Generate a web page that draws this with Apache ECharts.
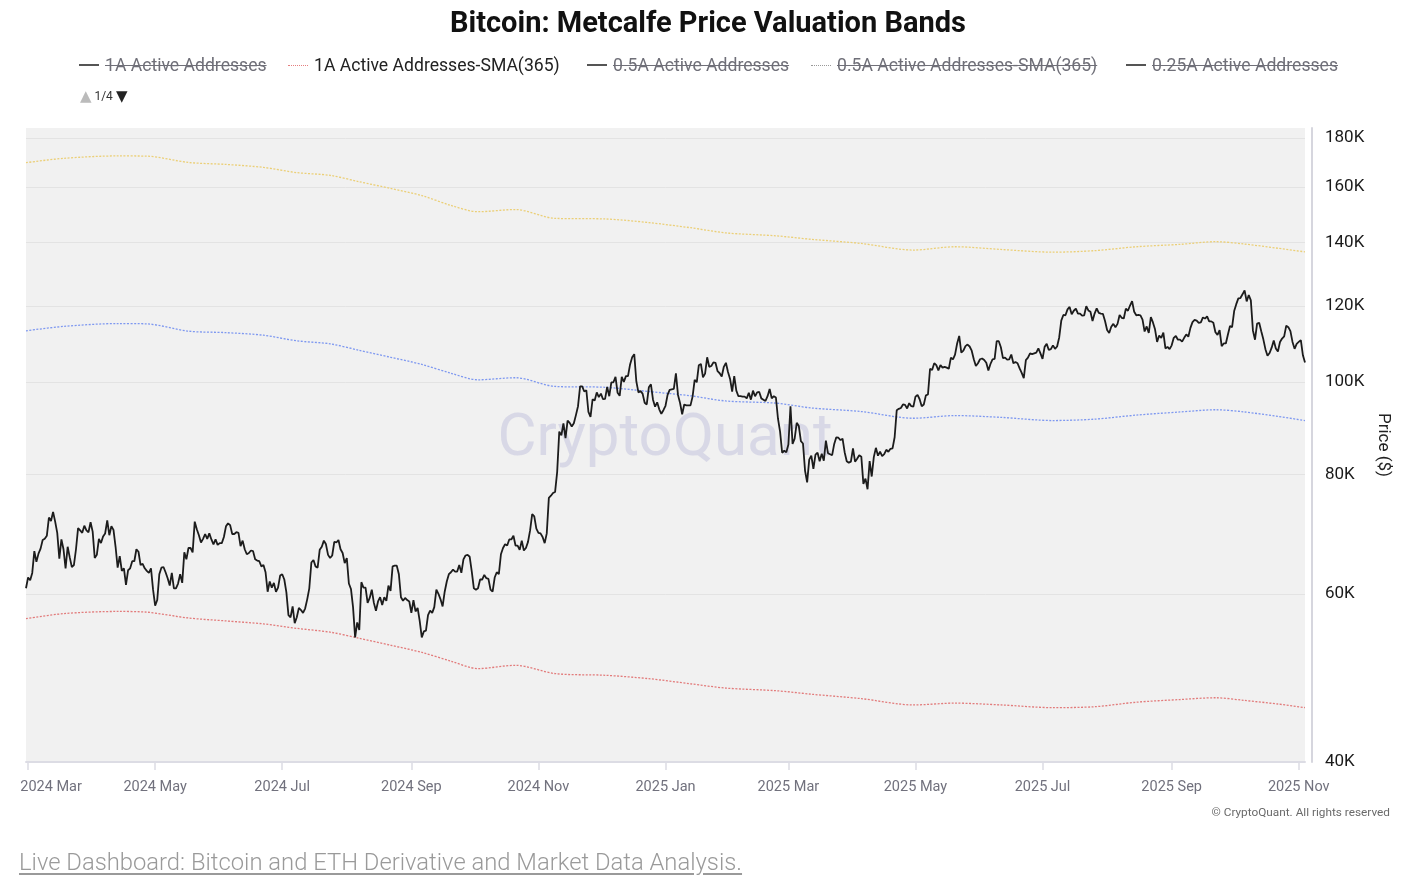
<!DOCTYPE html>
<html>
<head>
<meta charset="utf-8">
<title>Bitcoin: Metcalfe Price Valuation Bands</title>
<script src="https://cdn.jsdelivr.net/npm/echarts@6.0.0/dist/echarts.min.js"></script>
<style>
  html, body { margin: 0; padding: 0; background: #fff; }
  body { width: 1404px; height: 888px; position: relative; overflow: hidden; font-family: Roboto, "Liberation Sans", sans-serif; }
  #chart { position: absolute; left: 0; top: 0; width: 1404px; height: 888px; }
  .lg { position: absolute; top: 54px; height: 22px; display: flex; align-items: center; font-size: 17.6px; color: #222; white-space: nowrap; }
  .lg .ic { width: 20px; margin-right: 6px; height: 0; }
  .lg .solid { border-top: 2px solid #555; }
  .lg .dot-red { border-top: 1.5px dotted #e57f7f; }
  .lg .dot-gray { border-top: 1.5px dotted #999; }
  .lg.off span.t { color: #6f6f78; text-decoration: line-through; }
  .pager { position: absolute; left: 78px; top: 85px; font-size: 12px; color: #333; display: flex; align-items: center; height: 22px; }
  .pager .up { color: #bbb; font-size: 20px; margin-right: 1px; font-family: "DejaVu Sans", sans-serif; transform: scale(0.75); }
  .pager .dn { color: #222; font-size: 20px; margin-left: 1px; font-family: "DejaVu Sans", sans-serif; transform: scale(0.75); }
  .foot { position: absolute; left: 19px; top: 848px; font-size: 23.8px; font-weight: 300; color: #9a9a9a; text-decoration: underline; text-underline-offset: 3px; }
</style>
</head>
<body>
<div id="chart"></div>
<div class="lg off" style="left:79px"><span class="ic solid"></span><span class="t">1A Active Addresses</span></div>
<div class="lg" style="left:288px"><span class="ic dot-red"></span><span class="t">1A Active Addresses-SMA(365)</span></div>
<div class="lg off" style="left:587px"><span class="ic solid"></span><span class="t">0.5A Active Addresses</span></div>
<div class="lg off" style="left:811px"><span class="ic dot-gray"></span><span class="t">0.5A Active Addresses-SMA(365)</span></div>
<div class="lg off" style="left:1126px"><span class="ic solid"></span><span class="t">0.25A Active Addresses</span></div>
<div class="pager"><span class="up">&#9650;</span><span>1/4</span><span class="dn">&#9660;</span></div>
<div class="foot">Live Dashboard: Bitcoin and ETH Derivative and Market Data Analysis.</div>
<script>
// daily BTC price in $K, first day 2024-02-29
const priceStart = '2024-02-29';
const priceK = [
  60.8,
  // 2024 Mar
  62.4, 62.0, 63.1, 66.5, 64.8, 66.1, 66.9, 68.3, 68.5, 69.0, 72.1, 71.5, 73.1, 71.4, 69.5, 65.3, 68.4, 66.8, 63.8, 67.2, 65.5, 64.0, 64.3, 66.8, 70.3, 69.9, 69.5, 70.7, 69.9, 69.6, 71.3,
  // Apr
  69.7, 65.4, 65.9, 68.5, 67.8, 68.9, 69.4, 71.6, 69.1, 70.6, 70.0, 67.2, 63.9, 65.7, 63.4, 63.8, 61.3, 63.5, 63.8, 64.9, 64.9, 66.8, 66.4, 64.3, 64.5, 63.8, 63.4, 63.1, 63.8, 60.6,
  // May
  58.3, 59.1, 62.9, 63.9, 64.0, 63.2, 62.3, 61.2, 63.1, 60.8, 60.8, 61.5, 62.9, 61.6, 66.3, 65.2, 67.0, 67.0, 66.3, 71.4, 70.1, 69.1, 67.9, 68.5, 69.3, 68.5, 69.4, 68.4, 67.6, 68.4, 67.5,
  // Jun
  67.8, 67.8, 68.8, 70.6, 71.1, 70.8, 69.3, 69.3, 69.6, 69.5, 67.3, 68.2, 66.8, 66.0, 66.2, 66.6, 66.5, 65.2, 65.0, 64.9, 64.1, 64.3, 63.2, 60.3, 61.8, 60.9, 61.6, 60.3, 60.9, 62.7,
  // Jul
  62.9, 62.1, 60.2, 57.0, 56.7, 58.2, 55.9, 56.7, 58.0, 57.7, 57.3, 57.9, 59.2, 60.8, 64.7, 65.1, 64.1, 63.9, 66.7, 67.2, 68.2, 67.6, 65.9, 65.4, 65.8, 68.0, 67.9, 68.3, 66.8, 66.2, 64.6,
  // Aug
  65.4, 61.5, 60.7, 58.1, 54.0, 56.0, 55.0, 61.7, 60.9, 60.9, 58.7, 59.4, 60.6, 58.7, 57.6, 58.9, 59.5, 58.4, 59.5, 59.0, 61.2, 60.4, 64.1, 64.2, 64.2, 62.9, 59.5, 59.0, 59.4, 59.1, 58.9,
  // Sep
  57.3, 59.1, 57.5, 58.0, 56.2, 54.0, 54.8, 54.9, 57.0, 57.6, 57.3, 58.1, 60.6, 60.0, 59.2, 58.2, 60.3, 61.8, 62.9, 63.2, 63.6, 63.3, 63.3, 64.3, 63.1, 65.2, 65.8, 65.9, 65.6, 63.3,
  // Oct
  60.8, 60.6, 60.8, 62.1, 62.1, 62.8, 62.3, 62.2, 60.6, 60.3, 62.4, 63.2, 62.9, 66.0, 67.0, 67.6, 67.4, 68.4, 68.4, 69.0, 67.4, 67.4, 66.7, 68.2, 66.6, 67.0, 68.0, 69.9, 72.7, 72.3, 70.2,
  // Nov
  69.5, 69.4, 68.8, 67.8, 69.4, 75.6, 76.0, 76.5, 76.7, 80.5, 88.7, 87.9, 90.5, 87.3, 91.1, 90.6, 89.8, 90.5, 92.3, 94.3, 98.9, 98.9, 97.7, 98.0, 93.0, 91.9, 95.9, 95.6, 97.5, 96.4,
  // Dec
  97.2, 95.9, 96.0, 98.8, 96.6, 99.9, 99.9, 101.2, 97.4, 96.7, 101.2, 100.0, 101.4, 101.4, 104.3, 106.1, 106.9, 100.1, 97.5, 97.8, 97.2, 95.1, 94.7, 98.7, 99.4, 95.8, 94.2, 95.2, 93.6, 92.6, 93.4,
  // 2025 Jan
  94.4, 96.9, 98.1, 98.2, 98.3, 102.1, 96.9, 95.0, 92.5, 94.7, 94.5, 94.5, 94.5, 96.5, 100.5, 99.9, 104.1, 104.4, 101.1, 102.0, 106.1, 103.7, 103.9, 104.8, 104.7, 102.6, 102.1, 101.3, 103.7, 104.7, 102.4,
  // Feb
  100.7, 97.7, 101.4, 97.9, 96.6, 96.6, 96.5, 96.5, 96.1, 97.4, 95.8, 97.9, 96.6, 97.5, 97.6, 96.1, 95.8, 95.5, 96.6, 98.3, 96.1, 96.6, 96.3, 91.5, 88.7, 84.3, 84.7, 84.4,
  // Mar
  86.0, 94.3, 86.1, 87.2, 90.6, 89.9, 86.7, 86.2, 80.7, 78.5, 82.9, 83.7, 81.1, 83.9, 84.3, 82.6, 84.1, 82.7, 86.8, 84.2, 84.0, 83.8, 86.1, 87.5, 87.4, 86.9, 87.2, 84.4, 82.6, 82.3, 82.5,
  // Apr
  85.2, 82.5, 83.1, 83.8, 83.5, 78.2, 79.2, 77.2, 82.6, 79.6, 83.4, 85.3, 83.7, 84.5, 83.6, 84.0, 84.9, 84.5, 85.1, 85.2, 87.5, 93.4, 93.7, 93.9, 94.7, 94.6, 93.8, 95.0, 94.3, 94.2,
  // May
  96.5, 96.9, 95.9, 94.3, 94.7, 96.8, 97.0, 103.2, 102.9, 104.6, 104.1, 102.8, 104.1, 103.5, 103.7, 103.5, 103.2, 106.0, 105.6, 106.8, 109.7, 111.7, 107.3, 107.8, 109.0, 109.4, 108.9, 107.8, 105.6, 103.9, 104.6,
  // Jun
  105.6, 105.8, 105.4, 104.7, 102.8, 104.4, 105.6, 105.7, 110.3, 110.3, 108.7, 105.9, 106.0, 105.5, 105.6, 106.8, 104.6, 104.9, 104.6, 103.3, 102.2, 100.9, 105.4, 106.0, 107.1, 106.9, 107.1, 107.3, 108.4, 107.1,
  // Jul
  105.7, 108.8, 109.6, 108.0, 108.2, 109.2, 108.3, 108.9, 111.3, 115.9, 117.5, 117.4, 119.1, 119.8, 117.7, 118.7, 119.3, 117.9, 117.9, 117.3, 117.4, 120.0, 118.8, 118.4, 115.8, 117.9, 119.4, 118.1, 117.9, 117.8, 115.8,
  // Aug
  113.3, 112.5, 114.2, 115.0, 114.1, 115.0, 117.5, 116.7, 116.5, 119.3, 118.7, 120.2, 121.5, 118.4, 117.4, 117.5, 117.4, 116.2, 112.9, 114.3, 112.5, 116.9, 115.4, 113.5, 110.1, 111.8, 111.2, 112.6, 108.4, 108.8, 108.2,
  // Sep
  109.2, 111.2, 111.7, 110.7, 110.7, 110.2, 111.2, 112.1, 111.5, 113.9, 115.5, 116.1, 115.9, 115.3, 115.4, 116.8, 116.5, 117.1, 115.7, 115.7, 115.3, 112.7, 112.0, 113.3, 109.0, 109.7, 109.7, 112.1, 114.4, 114.1,
  // Oct
  118.6, 120.6, 122.3, 122.4, 123.5, 124.7, 121.4, 123.3, 121.7, 113.2, 110.7, 115.1, 115.3, 113.0, 110.8, 108.2, 106.5, 107.2, 108.6, 110.5, 108.4, 107.6, 110.1, 111.0, 111.6, 114.5, 114.1, 113.0, 110.1, 108.3, 109.6,
  // Nov
  110.1, 110.6, 106.6, 104.8
];

// 365-day SMA bands, $K
const bandDates = [
  '2024-02-29', '2024-03-18', '2024-04-13', '2024-04-27', '2024-05-17', '2024-06-04', '2024-06-22', '2024-07-08',
  '2024-07-24', '2024-08-07', '2024-08-22', '2024-09-06', '2024-09-20', '2024-10-03', '2024-10-21', '2024-11-09',
  '2024-12-03', '2024-12-24', '2025-01-13', '2025-01-30', '2025-02-23', '2025-03-12', '2025-04-05', '2025-04-30',
  '2025-05-20', '2025-06-11', '2025-07-06', '2025-07-26', '2025-08-15', '2025-09-05', '2025-09-22', '2025-10-06',
  '2025-10-22', '2025-11-04'
];
const sma1A = [56.5, 57.2, 57.5, 57.4, 56.6, 56.2, 55.8, 55.2, 54.7, 53.9, 53.0, 52.1, 51.0, 50.1, 50.5, 49.5,
  49.3, 48.9, 48.3, 47.8, 47.5, 47.1, 46.6, 45.9, 46.1, 45.9, 45.6, 45.7, 46.2, 46.5, 46.7, 46.4, 46.0, 45.6];
const sma2A = [113.1, 114.3, 115.1, 115.0, 113.0, 112.6, 111.9, 110.4, 109.6, 107.9, 106.1, 104.3, 102.1, 100.5, 101.0, 98.9,
  98.7, 97.7, 96.7, 95.5, 95.0, 93.9, 93.1, 91.6, 92.2, 91.8, 91.1, 91.4, 92.3, 93.0, 93.5, 93.0, 92.0, 91.1];
const sma3A = [169.6, 171.4, 172.4, 172.3, 169.7, 168.9, 167.7, 165.6, 164.5, 162.0, 159.4, 156.7, 153.0, 150.7, 151.5, 148.3,
  148.1, 146.8, 145.0, 143.2, 142.2, 141.0, 139.6, 137.4, 138.5, 137.6, 136.7, 137.2, 138.5, 139.3, 140.2, 139.4, 138.0, 136.8];

const yTicks = [40000, 60000, 80000, 100000, 120000, 140000, 160000, 180000];
const yMin = 40000;
const yMax = 184400;
const xTickDates = ['2024-03-01', '2024-05-01', '2024-07-01', '2024-09-01', '2024-11-01', '2025-01-01',
  '2025-03-01', '2025-05-01', '2025-07-01', '2025-09-01', '2025-11-01'];
const monthNames = ['Jan', 'Feb', 'Mar', 'Apr', 'May', 'Jun', 'Jul', 'Aug', 'Sep', 'Oct', 'Nov', 'Dec'];

function utc(s) {
  const p = s.split('-');
  return Date.UTC(+p[0], +p[1] - 1, +p[2]);
}

const DAY = 86400000;
const t0 = utc(priceStart);
const priceData = priceK.map((v, i) => [t0 + i * DAY, v * 1000]);
const band = (vals) => vals.map((v, i) => [utc(bandDates[i]), v * 1000]);
const xTicks = xTickDates.map(utc);
const tEnd = t0 + (priceK.length - 1) * DAY;

const chart = echarts.init(document.getElementById('chart'));
chart.setOption({
  animation: false,
  title: {
    text: 'Bitcoin: Metcalfe Price Valuation Bands',
    left: 445,
    top: 5,
    textStyle: { fontFamily: 'Roboto', fontWeight: 'bold', fontSize: 29, color: '#111' }
  },
  grid: {
    left: 26, right: 99, top: 128, bottom: 126,
    show: true, backgroundColor: '#f1f1f1', borderWidth: 0,
    outerBoundsMode: 'none'
  },
  graphic: [{
    type: 'text', x: 665, y: 440, z: 1, silent: true,
    style: {
      text: 'CryptoQuant', fill: 'rgba(200,200,224,0.6)',
      font: '60px Roboto', align: 'center', verticalAlign: 'middle'
    }
  }, {
    type: 'text', right: 14, top: 807, silent: true,
    style: { text: '\u00a9 CryptoQuant. All rights reserved', fill: '#6a6a6a', font: '11.8px Roboto' }
  }],
  xAxis: {
    // timestamps on a plain value axis so the month ticks can be placed exactly
    type: 'value',
    min: t0,
    max: tEnd,
    axisLine: { lineStyle: { color: '#dcdce4', width: 2 } },
    axisTick: { show: true, length: 8, customValues: xTicks, lineStyle: { color: '#dcdce4', width: 1.5 } },
    splitLine: { show: false },
    axisLabel: {
      customValues: xTicks,
      margin: 18,
      fontFamily: 'Roboto', fontSize: 14.5, color: '#71717d',
      formatter: function (v) {
        const d = new Date(v);
        const s = d.getUTCFullYear() + ' ' + monthNames[d.getUTCMonth()];
        return v === xTicks[0] ? '{first|' + s + '}' : s;
      },
      rich: { first: { padding: [0, 0, 0, 46], fontFamily: 'Roboto', fontSize: 14.5, color: '#71717d' } }
    }
  },
  yAxis: {
    type: 'log',
    position: 'right',
    offset: 7,
    min: yMin,
    max: yMax,
    name: 'Price ($)',
    nameLocation: 'middle',
    nameRotate: -90,
    nameGap: 62,
    nameTextStyle: { fontFamily: 'Roboto', fontSize: 17, color: '#222' },
    axisLine: { show: true, lineStyle: { color: '#d6d6de', width: 2 } },
    axisTick: { show: false, customValues: yTicks },
    splitLine: { show: true, lineStyle: { color: '#e3e3e3', width: 1 } },
    axisLabel: {
      customValues: yTicks,
      margin: 13,
      fontFamily: 'Roboto', fontSize: 17, color: '#1a1a1a',
      formatter: (v) => Math.round(v / 1000) + 'K'
    }
  },
  series: [{
    name: '3A Active Addresses-SMA(365)',
    type: 'line', data: band(sma3A), showSymbol: false, smooth: 0.3, z: 3,
    lineStyle: { color: '#ebcf77', width: 1.3, type: [2, 1.5] }
  }, {
    name: '2A Active Addresses-SMA(365)',
    type: 'line', data: band(sma2A), showSymbol: false, smooth: 0.3, z: 3,
    lineStyle: { color: '#7e98f0', width: 1.3, type: [2, 1.5] }
  }, {
    name: '1A Active Addresses-SMA(365)',
    type: 'line', data: band(sma1A), showSymbol: false, smooth: 0.3, z: 3,
    lineStyle: { color: '#e27b7b', width: 1.3, type: [2, 1.5] }
  }, {
    name: 'Price',
    type: 'line', data: priceData, showSymbol: false, z: 4,
    lineStyle: { color: '#1c1c1c', width: 1.8 }
  }]
});
</script>
</body>
</html>
